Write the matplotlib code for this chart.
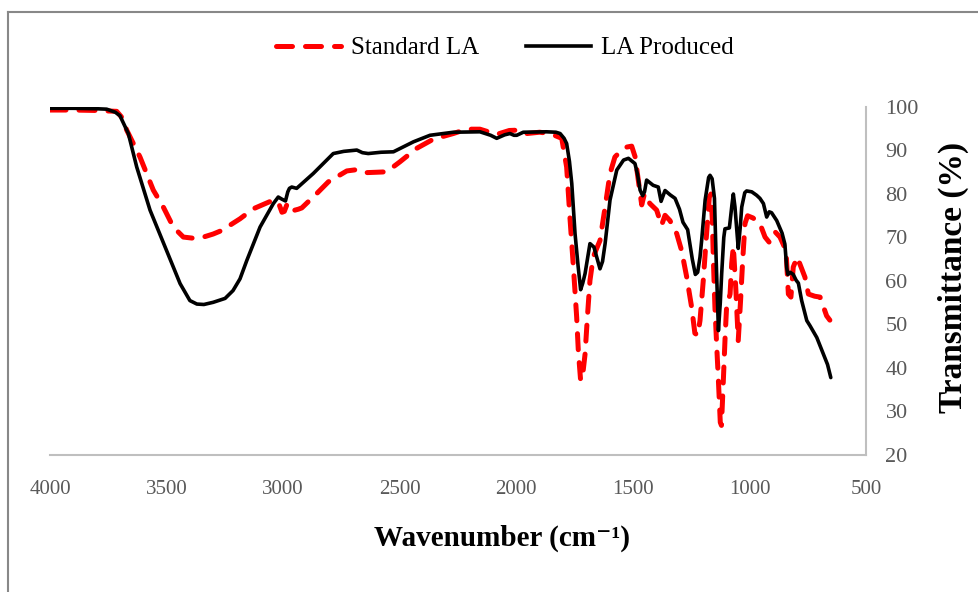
import matplotlib
matplotlib.use("Agg")
import matplotlib.pyplot as plt
from matplotlib.lines import Line2D

plt.rcParams['font.family'] = ['Liberation Serif', 'DejaVu Serif']

# Standard LA (red dashed)
wn_std = [4000, 3900, 3800, 3714, 3690, 3671, 3614, 3557, 3514, 3471, 3428, 3380, 3342,
          3300, 3264, 3185, 3128, 3042, 3020, 3005, 2995, 2985, 2970, 2956, 2935, 2920,
          2856, 2806, 2727, 2684, 2649, 2600, 2556, 2499, 2427, 2356, 2270, 2213, 2156,
          2120, 2084, 2030, 1984, 1955, 1900, 1855, 1805, 1784, 1770, 1755, 1741, 1734,
          1724, 1715, 1705, 1695, 1684, 1670, 1655, 1641, 1619, 1598, 1577, 1550, 1525,
          1505, 1490, 1475, 1462, 1450, 1427, 1398, 1377, 1362, 1341, 1312, 1291, 1269,
          1248, 1234, 1222, 1212, 1198, 1186, 1172, 1165, 1159, 1155, 1148, 1140, 1133,
          1125, 1120, 1112, 1104, 1098, 1083, 1076, 1069, 1058, 1048, 1038, 1029, 1019,
          1008, 985, 955, 933, 915, 890, 869, 843, 833, 822, 812, 795, 762, 747, 720,
          697, 669, 655]
t_std = [99.3, 99.3, 99.2, 99.0, 97.5, 94.7, 88.5, 80.9, 77.0, 72.4, 70.1, 69.8, 70.1,
         70.8, 71.6, 74.3, 76.6, 78.6, 78.0, 75.8, 76.0, 77.4, 75.8, 76.2, 76.5, 76.8,
         80.1, 82.8, 85.3, 85.6, 84.9, 85.0, 85.1, 87.4, 90.5, 92.6, 93.9, 94.9, 94.9,
         94.3, 93.7, 94.6, 94.7, 93.9, 94.2, 93.9, 92.8, 86.2, 74.7, 63.2, 51.7, 44.0,
         37.1, 38.5, 43.2, 51.7, 60.1, 65.5, 67.5, 69.3, 77.0, 84.7, 88.5, 90.0, 90.8,
         91.0, 88.5, 82.5, 77.5, 80.1, 77.8, 76.3, 72.8, 75.1, 73.9, 70.9, 67.0, 60.9,
         54.0, 48.0, 47.5, 50.9, 60.1, 69.3, 79.3, 80.0, 73.9, 65.5, 54.0, 44.7, 37.1,
         27.5, 26.8, 37.0, 47.5, 54.0, 57.0, 64.0, 68.0, 57.8, 46.3, 55.5, 64.7, 73.2,
         75.0, 74.5, 73.2, 70.1, 68.9, 71.3, 70.1, 67.0, 57.0, 56.3, 63.2, 65.5, 60.9,
         57.0, 56.5, 56.3, 52.0, 51.0]

# LA Produced (black solid)
wn_prod = [4000, 3900, 3800, 3757, 3720, 3700, 3664, 3628, 3571, 3500, 3442, 3400, 3370,
           3340, 3300, 3249, 3215, 3185, 3156, 3099, 3042, 3021, 3005, 2990, 2980, 2973,
           2963, 2942, 2871, 2785, 2740, 2684, 2660, 2635, 2580, 2527, 2441, 2370, 2270,
           2156, 2110, 2084, 2050, 2027, 2010, 1998, 1970, 1870, 1830, 1812, 1795, 1784,
           1772, 1762, 1748, 1735, 1724, 1715, 1705, 1684, 1667, 1641, 1630, 1619, 1598,
           1569, 1540, 1519, 1491, 1480, 1469, 1458, 1450, 1441, 1413, 1391, 1379, 1362,
           1340, 1319, 1300, 1285, 1265, 1245, 1232, 1222, 1212, 1205, 1190, 1175, 1169,
           1160, 1150, 1143, 1133, 1125, 1119, 1110, 1105, 1086, 1075, 1069, 1062, 1048,
           1040, 1033, 1020, 1012, 990, 969, 955, 940, 926, 915, 905, 883, 860, 848, 840,
           835, 825, 812, 800, 790, 776, 754, 740, 711, 683, 665, 651]
t_prod = [99.7, 99.7, 99.6, 99.5, 98.8, 98.0, 93.9, 86.2, 76.3, 67.0, 59.4, 55.5, 54.7,
          54.6, 55.1, 56.0, 57.8, 60.5, 64.7, 72.4, 77.8, 79.3, 78.8, 78.4, 80.5, 81.3,
          81.6, 81.3, 84.7, 89.3, 89.8, 90.1, 89.5, 89.3, 89.6, 89.7, 92.0, 93.5, 94.2,
          94.3, 93.5, 92.8, 93.6, 93.9, 93.5, 93.5, 94.2, 94.3, 94.2, 93.9, 92.8, 91.6,
          87.5, 82.4, 70.9, 63.5, 58.0, 59.5, 61.7, 68.6, 67.8, 62.8, 64.5, 68.6, 78.6,
          85.5, 87.8, 88.2, 87.0, 84.5, 80.9, 79.6, 80.5, 83.2, 82.0, 81.6, 78.3, 80.8,
          79.8, 79.0, 76.5, 73.5, 71.8, 65.0, 61.5, 62.0, 65.5, 69.3, 78.6, 83.8, 84.3,
          83.5, 79.0, 65.5, 48.6, 55.0, 61.7, 70.0, 72.0, 72.2, 77.5, 80.0, 77.0, 67.5,
          72.0, 77.0, 80.3, 80.7, 80.5, 79.7, 79.0, 77.8, 74.7, 75.9, 75.7, 73.9, 71.0,
          68.5, 63.0, 61.5, 62.0, 61.5, 60.2, 59.5, 55.5, 50.9, 49.7, 47.0, 43.2, 40.8,
          37.8]

x_ticks = [4000, 3500, 3000, 2500, 2000, 1500, 1000, 500]
y_ticks = [20, 30, 40, 50, 60, 70, 80, 90, 100]

fig = plt.figure(figsize=(9.79, 5.92), dpi=100)
ax = fig.add_axes([50/979, 1-455/592, 816/979, 348/592])

red_dash = (0, (3.2, 2.6))
ax.plot(wn_std, t_std, color='#ff0000', lw=3.6, linestyle=red_dash,
        dash_capstyle='round', label='Standard LA')
ax.plot(wn_prod, t_prod, color='black', lw=2.6, solid_capstyle='round',
        label='LA Produced')

ax.set_xlim(4000, 500)
ax.set_ylim(20, 100)
ax.set_xticks(x_ticks)
ax.set_yticks(y_ticks)
ax.yaxis.tick_right()
ax.tick_params(length=0, labelcolor='#595959')
ax.tick_params(axis='x', pad=18, labelsize=15)
ax.tick_params(axis='y', pad=14, labelsize=16)
for s in ['left', 'top']:
    ax.spines[s].set_visible(False)
for s in ['bottom', 'right']:
    ax.spines[s].set_color('#bfbfbf')
    ax.spines[s].set_linewidth(1.5)

fig.text(502/979, 1-538/592, 'Wavenumber (cm\u207b\u00b9)', fontsize=21,
         fontweight='bold', ha='center', va='center')
fig.text(953/979, 1-277/592, 'Transmittance (%)', fontsize=24, fontweight='bold',
         rotation=90, ha='center', va='center')

handles = [Line2D([], [], color='#ff0000', lw=3.6, linestyle=red_dash,
                  dash_capstyle='round'),
           Line2D([], [], color='black', lw=2.6)]
fig.legend(handles, ['Standard LA', 'LA Produced'], loc='center',
           bbox_to_anchor=(505/979, 1-48/592), ncol=2, frameon=False,
           fontsize=18, handlelength=2.6, handletextpad=0.4, columnspacing=1.9)

# outer frame (top and left edges visible)
fig.add_artist(Line2D([8.5/979, 1], [1-11.7/592, 1-11.7/592], color='#888888', lw=1.5))
fig.add_artist(Line2D([8.5/979, 8.5/979], [0, 1-11.7/592], color='#888888', lw=1.5))

fig.savefig('out.png', dpi=100)
